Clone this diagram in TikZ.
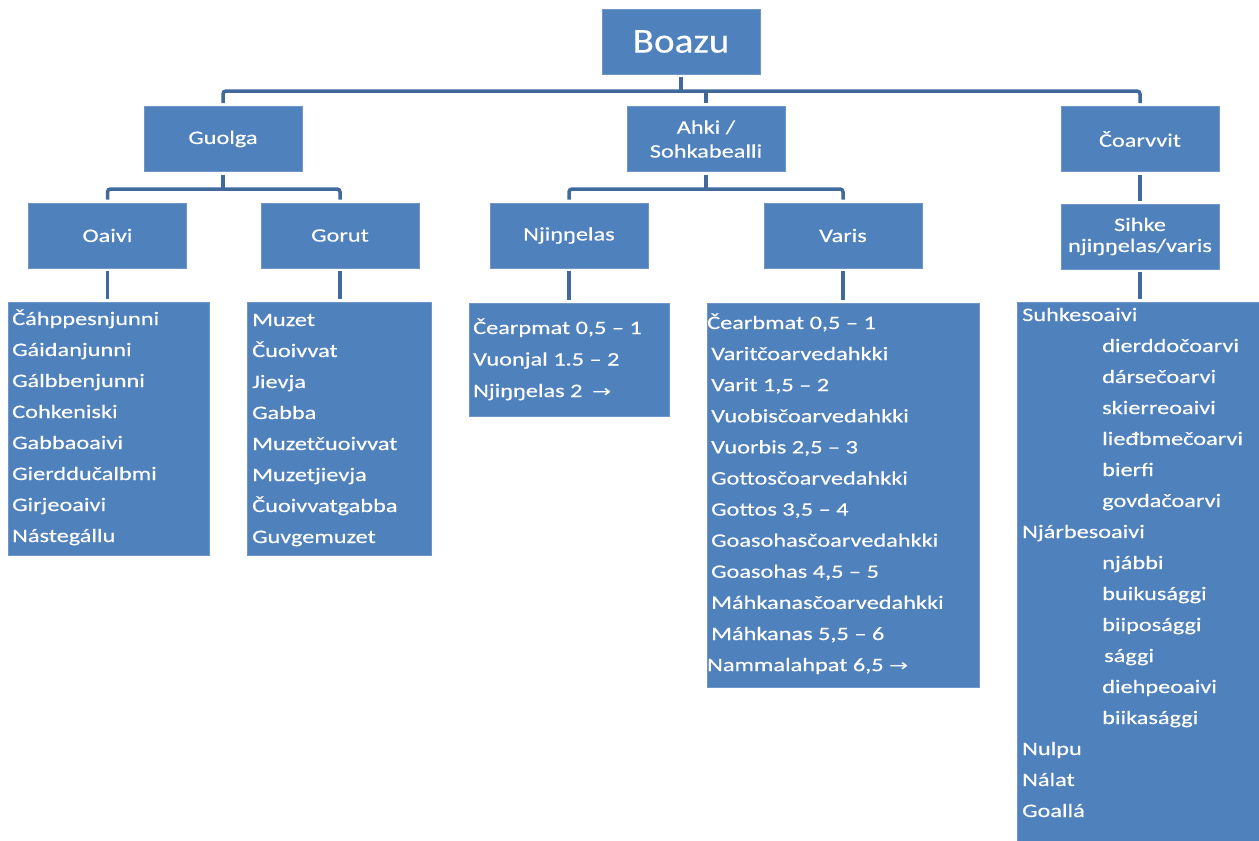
\documentclass[tikz,border=0pt]{standalone}
\usepackage{fontspec}
\setmainfont{Carlito}
\newfontfamily\dfont[FakeStretch=1.28,FakeBold=0.35]{Carlito}
\newfontfamily\bigfont[FakeStretch=1.12,FakeBold=0.3]{Carlito}
\newfontfamily\arrowfont[FakeStretch=1.35]{DejaVu Sans}
\definecolor{boxblue}{HTML}{4F81BD}
\definecolor{boxedge}{HTML}{7095C8}
\definecolor{lineblue}{HTML}{41699C}
\newcommand{\rarr}{{\arrowfont\fontsize{17}{20}\selectfont →}}
\begin{document}
\begin{tikzpicture}[x=1pt,y=-1pt,
  box/.style={rectangle, fill=boxblue, draw=boxedge, line width=0.6pt, inner sep=0pt, text=white, align=center},
  lvl/.style={box, minimum width=158pt, minimum height=65pt, font=\dfont\fontsize{19}{23}\selectfont},
  lst/.style={text=white, inner sep=0pt, anchor=base west, font=\dfont\fontsize{19}{23}\selectfont},
  conn/.style={draw=lineblue, line width=3.5pt, rounded corners=3pt},
  gap/.style={shorten <=3pt, shorten >=3pt},
  gaps/.style={shorten <=3pt}]
\useasboundingbox (0,0) rectangle (1259,841);

% top
\node[box, minimum width=158pt, minimum height=65pt, font=\bigfont\fontsize{35}{40}\selectfont] (boazu) at (681,41.5) {Boazu};

% level 1
\node[lvl] (guolga) at (223,139) {Guolga};
\node[lvl, font=\dfont\fontsize{19}{24}\selectfont] (ahki) at (706,139) {\raisebox{-2pt}{Ahki /}\\\raisebox{-2pt}{Sohkabealli}};
\node[lvl] (coarvvit) at (1140,139) {Čoarvvit};

% level 2
\node[lvl] (oaivi) at (107.5,235.5) {Oaivi};
\node[lvl] (gorut) at (340,235.5) {Gorut};
\node[lvl] (njinnelas) at (569,235.5) {Njiŋŋelas};
\node[lvl] (varis) at (843,235.5) {Varis};
\node[lvl, font=\dfont\fontsize{19}{21}\selectfont] (sihke) at (1140,236.5) {Sihke\\njiŋŋelas/varis};

% list boxes
\node[box, anchor=north west, minimum width=201pt, minimum height=253pt] (oaiviL) at (8,302) {};
\node[box, anchor=north west, minimum width=184pt, minimum height=253pt] (gorutL) at (247,302) {};
\node[box, anchor=north west, minimum width=200pt, minimum height=113pt] (njinnelasL) at (469,303) {};
\node[box, anchor=north west, minimum width=272pt, minimum height=384pt] (varisL) at (707,303) {};
\node[box, anchor=north west, minimum width=250pt, minimum height=545pt] (sihkeL) at (1017,302) {};

% connectors
\coordinate (busA) at (0,91);
\coordinate (busG) at (0,189);
\draw[conn, gaps] (boazu.south) -- (boazu.south |- busA);
\draw[conn, gap] (guolga.north) -- (guolga.north |- busA) -- (coarvvit.north |- busA) -- (coarvvit.north);
\draw[conn, shorten >=3pt] (ahki.north |- busA) -- (ahki.north);

\draw[conn, gaps] (guolga.south) -- (guolga.south |- busG);
\draw[conn, gap] (oaivi.north) -- (oaivi.north |- busG) -- (gorut.north |- busG) -- (gorut.north);
\draw[conn, gaps] (ahki.south) -- (ahki.south |- busG);
\draw[conn, gap] (njinnelas.north) -- (njinnelas.north |- busG) -- (varis.north |- busG) -- (varis.north);
\draw[conn, gap] (coarvvit.south) -- (sihke.north);

\draw[conn, gap] (oaivi.south) -- (oaivi.south |- oaiviL.north);
\draw[conn, gap] (gorut.south) -- (gorut.south |- gorutL.north);
\draw[conn, gap] (njinnelas.south) -- (njinnelas.south |- njinnelasL.north);
\draw[conn, gap] (varis.south) -- (varis.south |- varisL.north);
\draw[conn, gap] (sihke.south) -- (sihke.south |- sihkeL.north);

% list texts
\foreach \t [count=\i] in {Čáhppesnjunni, Gáidanjunni, Gálbbenjunni, Cohkeniski, Gabbaoaivi, Gierddučalbmi, Girjeoaivi, Nástegállu}
  \node[lst] (oaivi-t\i) at (12,{325+31*(\i-1)}) {\t};

\foreach \t [count=\i] in {Muzet, Čuoivvat, Jievja, Gabba, Muzetčuoivvat, Muzetjievja, Čuoivvatgabba, Guvgemuzet}
  \node[lst] (gorut-t\i) at (252,{326+31*(\i-1)}) {\t};

\foreach \t [count=\i] in {{Čearpmat 0,5 – 1}, {Vuonjal 1.5 – 2}, {Njiŋŋelas 2\enspace\rarr}}
  \node[lst] (njinnelas-t\i) at (473,{334+31.5*(\i-1)}) {\t};

\foreach \x/\t [count=\i] in {707/{Čearbmat 0,5 – 1}, 711/{Varitčoarvedahkki}, 711/{Varit 1,5 – 2}, 711/{Vuobisčoarvedahkki}, 711/{Vuorbis 2,5 – 3}, 711/{Gottosčoarvedahkki}, 711/{Gottos 3,5 – 4}, 711/{Goasohasčoarvedahkki}, 711/{Goasohas 4,5 – 5}, 711/{Máhkanasčoarvedahkki}, 711/{Máhkanas 5,5 – 6}, 707/{Nammalahpat 6,5 \rarr}}
  \node[lst] (varis-t\i) at (\x,{329+31.1*(\i-1)}) {\t};

\foreach \x/\t [count=\i] in {1022/Suhkesoaivi, 1102/dierddočoarvi, 1102/dársečoarvi, 1102/skierreoaivi, 1102/lieđbmečoarvi, 1102/bierfi, 1102/govdačoarvi, 1022/Njárbesoaivi, 1102/njábbi, 1102/buikusággi, 1102/biiposággi, 1104/sággi, 1102/diehpeoaivi, 1102/biikasággi, 1022/Nulpu, 1022/Nálat, 1022/Goallá}
  \node[lst] (sihke-t\i) at (\x,{321+31*(\i-1)}) {\t};
\end{tikzpicture}
\end{document}
